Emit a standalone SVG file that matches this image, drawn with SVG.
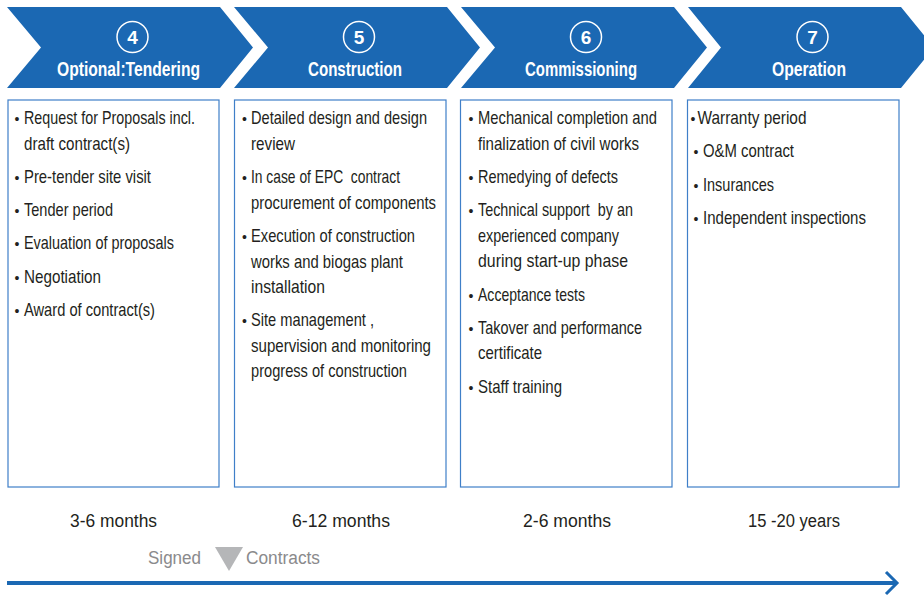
<svg xmlns="http://www.w3.org/2000/svg" width="924" height="596" viewBox="0 0 924 596">
<defs>
<style>
.chev{fill:#1b68b3}
.circ{fill:none;stroke:#ffffff;stroke-width:1.5}
.num{fill:#ffffff;font-family:"Liberation Sans",Arial,sans-serif;font-weight:bold;font-size:19px;text-anchor:middle}
.ttl{fill:#ffffff;font-family:"Liberation Sans Narrow","Liberation Sans",Arial,sans-serif;font-weight:bold;font-size:21px}
.box{fill:#ffffff;stroke:#3f7fc8;stroke-width:1.2}
.t{fill:#231f20;font-family:"Liberation Sans Narrow","Liberation Sans",Arial,sans-serif;font-size:19px;white-space:pre}
.b{font-family:"Liberation Sans",Arial,sans-serif;font-size:14px}
.dur{fill:#231f20;font-family:"Liberation Sans Narrow","Liberation Sans",Arial,sans-serif;font-size:18px}
.gray{fill:#8a8a8c;font-family:"Liberation Sans Narrow","Liberation Sans",Arial,sans-serif;font-size:18px}
.tl{fill:none;stroke:#1b68b3}
</style>
</defs>
<rect width="924" height="596" fill="#ffffff"/>

<g id="step4">
<polygon class="chev" points="7,7 220,7 253,47.5 220,88 7,88 41,47.5"/>
<circle class="circ" cx="132.5" cy="37" r="15.5"/>
<text class="num" x="132.5" y="44">4</text>
<text class="ttl" x="57" y="76" textLength="143" lengthAdjust="spacingAndGlyphs">Optional:Tendering</text>
</g>
<g id="step5">
<polygon class="chev" points="234,7 447,7 480,47.5 447,88 234,88 268,47.5"/>
<circle class="circ" cx="359" cy="37" r="15.5"/>
<text class="num" x="359" y="44">5</text>
<text class="ttl" x="308" y="76" textLength="94" lengthAdjust="spacingAndGlyphs">Construction</text>
</g>
<g id="step6">
<polygon class="chev" points="461,7 674,7 707,47.5 674,88 461,88 495,47.5"/>
<circle class="circ" cx="586" cy="37" r="15.5"/>
<text class="num" x="586" y="44">6</text>
<text class="ttl" x="525" y="76" textLength="112" lengthAdjust="spacingAndGlyphs">Commissioning</text>
</g>
<g id="step7">
<polygon class="chev" points="688,7 901,7 934,47.5 901,88 688,88 721,47.5"/>
<circle class="circ" cx="812.5" cy="37" r="15.5"/>
<text class="num" x="812.5" y="44">7</text>
<text class="ttl" x="772" y="76" textLength="74" lengthAdjust="spacingAndGlyphs">Operation</text>
</g>

<g id="box4">
<rect class="box" x="8" y="100" width="211" height="387"/>
<text class="t" y="124"><tspan class="b" x="14.5">•</tspan><tspan x="24" textLength="171" lengthAdjust="spacingAndGlyphs">Request for Proposals incl.</tspan></text>
<text class="t" x="24" y="150" textLength="106" lengthAdjust="spacingAndGlyphs">draft contract(s)</text>
<text class="t" y="183"><tspan class="b" x="14.5">•</tspan><tspan x="24" textLength="127" lengthAdjust="spacingAndGlyphs">Pre-tender site visit</tspan></text>
<text class="t" y="216"><tspan class="b" x="14.5">•</tspan><tspan x="24" textLength="89" lengthAdjust="spacingAndGlyphs">Tender period</tspan></text>
<text class="t" y="249"><tspan class="b" x="14.5">•</tspan><tspan x="24" textLength="150" lengthAdjust="spacingAndGlyphs">Evaluation of proposals</tspan></text>
<text class="t" y="283"><tspan class="b" x="14.5">•</tspan><tspan x="24" textLength="77" lengthAdjust="spacingAndGlyphs">Negotiation</tspan></text>
<text class="t" y="316"><tspan class="b" x="14.5">•</tspan><tspan x="24" textLength="131" lengthAdjust="spacingAndGlyphs">Award of contract(s)</tspan></text>
</g>

<g id="box5">
<rect class="box" x="234.5" y="100" width="211.5" height="387"/>
<text class="t" y="124"><tspan class="b" x="242">•</tspan><tspan x="251" textLength="176" lengthAdjust="spacingAndGlyphs">Detailed design and design</tspan></text>
<text class="t" x="251" y="150" textLength="44" lengthAdjust="spacingAndGlyphs">review</text>
<text class="t" y="183"><tspan class="b" x="242">•</tspan><tspan x="251" textLength="149" lengthAdjust="spacingAndGlyphs">In case of EPC  contract</tspan></text>
<text class="t" x="251" y="209" textLength="185" lengthAdjust="spacingAndGlyphs">procurement of components</text>
<text class="t" y="242"><tspan class="b" x="242">•</tspan><tspan x="251" textLength="164" lengthAdjust="spacingAndGlyphs">Execution of construction</tspan></text>
<text class="t" x="251" y="268" textLength="152" lengthAdjust="spacingAndGlyphs">works and biogas plant</text>
<text class="t" x="251" y="293" textLength="74" lengthAdjust="spacingAndGlyphs">installation</text>
<text class="t" y="326"><tspan class="b" x="242">•</tspan><tspan x="251" textLength="123" lengthAdjust="spacingAndGlyphs">Site management ,</tspan></text>
<text class="t" x="251" y="352" textLength="180" lengthAdjust="spacingAndGlyphs">supervision and monitoring</text>
<text class="t" x="251" y="377" textLength="156" lengthAdjust="spacingAndGlyphs">progress of construction</text>
</g>

<g id="box6">
<rect class="box" x="460.5" y="100" width="211.5" height="387"/>
<text class="t" y="124"><tspan class="b" x="468.5">•</tspan><tspan x="478" textLength="179" lengthAdjust="spacingAndGlyphs">Mechanical completion and</tspan></text>
<text class="t" x="478" y="150" textLength="161" lengthAdjust="spacingAndGlyphs">finalization of civil works</text>
<text class="t" y="183"><tspan class="b" x="468.5">•</tspan><tspan x="478" textLength="140" lengthAdjust="spacingAndGlyphs">Remedying of defects</tspan></text>
<text class="t" y="216"><tspan class="b" x="468.5">•</tspan><tspan x="478" textLength="155" lengthAdjust="spacingAndGlyphs">Technical support  by an</tspan></text>
<text class="t" x="478" y="242" textLength="141" lengthAdjust="spacingAndGlyphs">experienced company</text>
<text class="t" x="478" y="267" textLength="150" lengthAdjust="spacingAndGlyphs">during start-up phase</text>
<text class="t" y="301"><tspan class="b" x="468.5">•</tspan><tspan x="478" textLength="107" lengthAdjust="spacingAndGlyphs">Acceptance tests</tspan></text>
<text class="t" y="334"><tspan class="b" x="468.5">•</tspan><tspan x="478" textLength="164" lengthAdjust="spacingAndGlyphs">Takover and performance</tspan></text>
<text class="t" x="478" y="359" textLength="64" lengthAdjust="spacingAndGlyphs">certificate</text>
<text class="t" y="393"><tspan class="b" x="468.5">•</tspan><tspan x="478" textLength="84" lengthAdjust="spacingAndGlyphs">Staff training</tspan></text>
</g>

<g id="box7">
<rect class="box" x="687.5" y="100" width="211.5" height="387"/>
<text class="t" y="124"><tspan class="b" x="690.5">•</tspan><tspan x="697.5" textLength="109" lengthAdjust="spacingAndGlyphs">Warranty period</tspan></text>
<text class="t" y="157"><tspan class="b" x="693.5">•</tspan><tspan x="703" textLength="91" lengthAdjust="spacingAndGlyphs">O&amp;M contract</tspan></text>
<text class="t" y="191"><tspan class="b" x="693.5">•</tspan><tspan x="703" textLength="71" lengthAdjust="spacingAndGlyphs">Insurances</tspan></text>
<text class="t" y="224"><tspan class="b" x="693.5">•</tspan><tspan x="703" textLength="163" lengthAdjust="spacingAndGlyphs">Independent inspections</tspan></text>
</g>

<g id="durations">
<text class="dur" x="70" y="527" textLength="87" lengthAdjust="spacingAndGlyphs">3-6 months</text>
<text class="dur" x="292" y="527" textLength="98" lengthAdjust="spacingAndGlyphs">6-12 months</text>
<text class="dur" x="523" y="527" textLength="88" lengthAdjust="spacingAndGlyphs">2-6 months</text>
<text class="dur" x="748" y="527" textLength="92" lengthAdjust="spacingAndGlyphs">15 -20 years</text>
</g>

<g id="signed-contracts">
<text class="gray" x="148" y="564" textLength="53" lengthAdjust="spacingAndGlyphs">Signed</text>
<polygon points="215,547 243,547 229,571" fill="#b5b6b8"/>
<text class="gray" x="246" y="564" textLength="74" lengthAdjust="spacingAndGlyphs">Contracts</text>
</g>

<g id="connectors">
<line class="tl" x1="7" y1="583" x2="896" y2="583" stroke-width="4"/>
<polyline class="tl" points="886,572 897,583 886,594" stroke-width="3"/>
</g>
</svg>
